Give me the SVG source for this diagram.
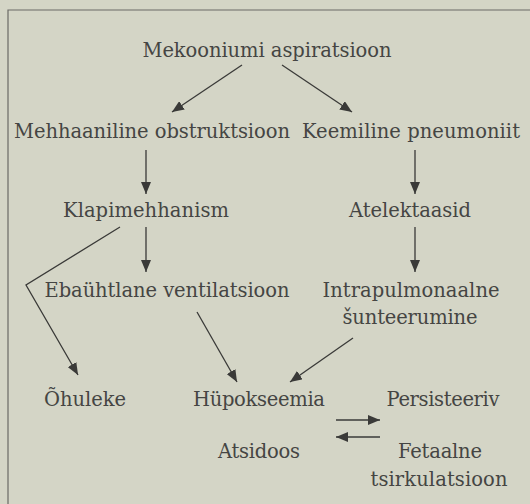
<svg xmlns="http://www.w3.org/2000/svg" width="530" height="504" viewBox="0 0 530 504">
<defs>
<marker id="ah" viewBox="0 0 12 10" refX="12" refY="5" markerWidth="12" markerHeight="10" markerUnits="userSpaceOnUse" orient="auto">
<path d="M0,0 L12,5 L0,10 Z" fill="#3a3a38"/>
</marker>
<style>
text{font-family:"DejaVu Serif","Liberation Serif",serif;font-size:19.5px;fill:#454543;text-anchor:middle}
.c line,.c polyline{stroke:#3a3a38;stroke-width:1.3;fill:none;marker-end:url(#ah)}
</style>
</defs>
<rect width="530" height="504" fill="#d4d5c6"/>
<path d="M8,504 V10 H530" fill="none" stroke="#6a6a66" stroke-width="1.2"/>
<g id="n1"><text x="267" y="57" textLength="249">Mekooniumi aspiratsioon</text></g>
<g id="n2"><text x="152" y="138" textLength="276">Mehhaaniline obstruktsioon</text></g>
<g id="n3"><text x="411" y="138" textLength="218">Keemiline pneumoniit</text></g>
<g id="n4"><text x="146" y="217" textLength="166">Klapimehhanism</text></g>
<g id="n5"><text x="410" y="217" textLength="122">Atelektaasid</text></g>
<g id="n6"><text x="167" y="297" textLength="245">Ebaühtlane ventilatsioon</text></g>
<g id="n7"><text x="411" y="297" textLength="177">Intrapulmonaalne</text><text x="410" y="324" textLength="135">šunteerumine</text></g>
<g id="n8"><text x="85" y="406" textLength="82">Õhuleke</text></g>
<g id="n9"><text x="259" y="406" textLength="132">Hüpokseemia</text></g>
<g id="n10"><text x="443" y="406" textLength="113">Persisteeriv</text><text x="440" y="458" textLength="84">Fetaalne</text><text x="439" y="486" textLength="137">tsirkulatsioon</text></g>
<g id="n11"><text x="259" y="458" textLength="82">Atsidoos</text></g>
<g class="c" id="connectors">
<line x1="242" y1="65" x2="172" y2="112"/>
<line x1="282" y1="65" x2="352" y2="112"/>
<line x1="146" y1="150" x2="146" y2="194"/>
<line x1="415" y1="150" x2="415" y2="194"/>
<line x1="146" y1="227" x2="146" y2="272"/>
<line x1="415" y1="227" x2="415" y2="272"/>
<polyline points="120,227 26,285 78,375"/>
<line x1="197" y1="312" x2="237" y2="382"/>
<line x1="353" y1="338" x2="290" y2="382"/>
<line x1="336" y1="420" x2="380" y2="420"/>
<line x1="380" y1="437" x2="336" y2="437"/>
</g>
</svg>
